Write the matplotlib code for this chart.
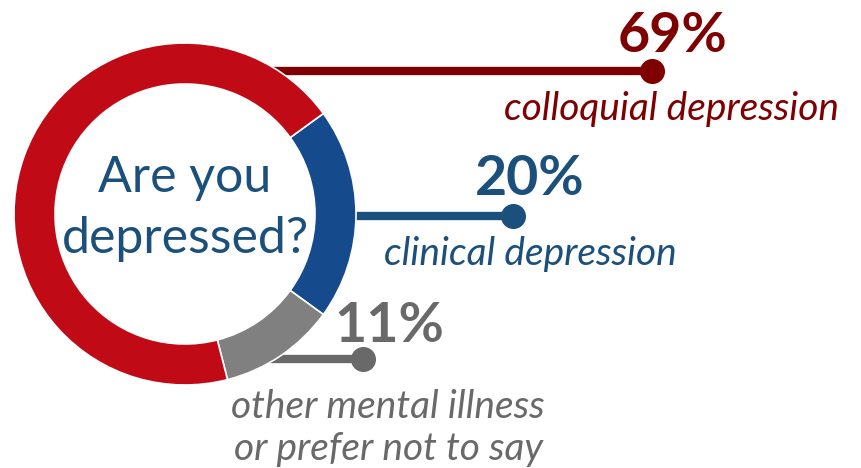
import matplotlib.pyplot as plt

# data
labels = ["clinical depression", "other mental illness\nor prefer not to say", "colloquial depression"]
shares = [20, 11, 69]
ring_colors = ["#154a8c", "#808080", "#c00a16"]
text_colors = ["#1b4f7c", "#696969", "#7f0000"]
question = ["Are you", "depressed?"]

W, H = 861, 468
fig = plt.figure(figsize=(W / 100, H / 100), dpi=100)
ax = fig.add_axes([0, 0, 1, 1])

cx, cy, R = 185, H - 214, 171
ax.pie(shares, colors=ring_colors, startangle=36, counterclock=False,
       center=(cx, cy), radius=R, frame=True,
       wedgeprops=dict(width=41, edgecolor="white", linewidth=1.2))
ax.set_xlim(0, W)
ax.set_ylim(0, H)
ax.set_aspect("equal")
ax.axis("off")

for line, base in zip(question, [192, 253]):
    ax.text(cx, H - base, line, ha="center", va="baseline", fontsize=36,
            family="Lato", color="#1b4f7c")

# leader lines: (line y, start x, dot x, pct center x, pct baseline, label x, label last baseline)
leaders = [
    (216, 350, 513, 530, 195, 530, 265),
    (359, 270, 363, 389, 342, 388, 460),
    (71, 270, 652, 673, 52, 672, 120),
]
for (ly, x0, x1, px, pb, tx, tb), s, lab, c in zip(leaders, shares, labels, text_colors):
    ax.plot([x0, x1], [H - ly, H - ly], color=c, lw=6, zorder=0, solid_capstyle="butt")
    ax.plot([x1], [H - ly], "o", color=c, ms=17, zorder=3)
    ax.text(px, H - pb, f"{s}%", ha="center", va="baseline", fontsize=40,
            family="Lato", weight="bold", color=c)
    ax.text(tx, H - tb, lab, ha="center", va="baseline", fontsize=28,
            family="Lato", style="italic", color=c, linespacing=1.2)

fig.savefig("out.png", dpi=100)
